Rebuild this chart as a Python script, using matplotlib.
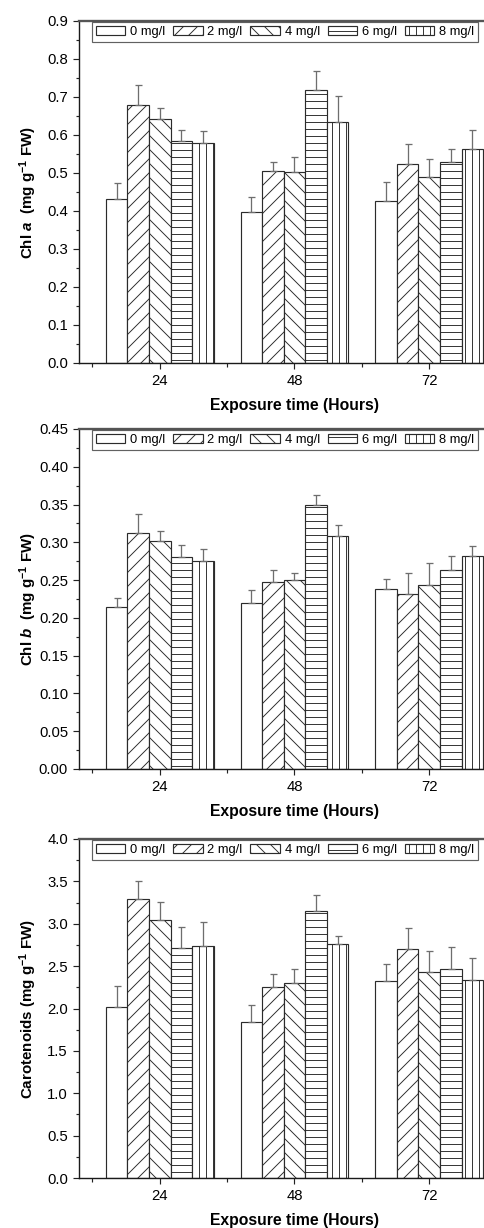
import numpy as np
import matplotlib
matplotlib.use("Agg")
import matplotlib.pyplot as plt
from matplotlib.ticker import MultipleLocator

# ---------------- data ----------------
times = ["24", "48", "72"]
series = ["0 mg/l", "2 mg/l", "4 mg/l", "6 mg/l", "8 mg/l"]

chla = [[0.432, 0.397, 0.426],
        [0.680, 0.504, 0.524],
        [0.642, 0.503, 0.489],
        [0.585, 0.718, 0.530],
        [0.580, 0.635, 0.564]]
chla_err = [[0.041, 0.041, 0.050],
            [0.052, 0.026, 0.051],
            [0.028, 0.039, 0.047],
            [0.028, 0.050, 0.034],
            [0.031, 0.068, 0.048]]

chlb = [[0.214, 0.220, 0.238],
        [0.313, 0.248, 0.231],
        [0.302, 0.250, 0.244],
        [0.281, 0.350, 0.264],
        [0.275, 0.308, 0.282]]
chlb_err = [[0.012, 0.017, 0.013],
            [0.025, 0.016, 0.028],
            [0.013, 0.010, 0.029],
            [0.016, 0.013, 0.018],
            [0.016, 0.015, 0.013]]

carot = [[2.02, 1.84, 2.32],
         [3.29, 2.25, 2.70],
         [3.04, 2.30, 2.43],
         [2.71, 3.15, 2.47],
         [2.74, 2.76, 2.34]]
carot_err = [[0.24, 0.20, 0.20],
             [0.22, 0.16, 0.25],
             [0.22, 0.17, 0.25],
             [0.25, 0.19, 0.25],
             [0.28, 0.10, 0.26]]

hatches = ["", "//", "\\\\", "--", "||"]

DPI = 84
W, H = 484, 1228
plt.rcParams.update({
    "font.family": ["Liberation Sans", "DejaVu Sans"],
    "mathtext.fontset": "custom",
    "mathtext.rm": "Liberation Sans:bold",
    "mathtext.bf": "Liberation Sans:bold",
    "mathtext.it": "Liberation Sans:italic:bold",
    "hatch.linewidth": 0.8,
    "hatch.color": "#3a3a3a",
})

fig = plt.figure(figsize=(W / DPI, H / DPI), dpi=DPI)

def px2pt(p):
    return p * 72.0 / DPI

panels = [
    dict(data=chla, err=chla_err, top=21, bottom=363, ylim=(0, 0.9), major=0.1, minor=0.05,
         fmt="{:.1f}", ylabel=r"Chl $\it{a}$  (mg g$^{-1}$ FW)"),
    dict(data=chlb, err=chlb_err, top=429, bottom=769, ylim=(0, 0.45), major=0.05, minor=0.025,
         fmt="{:.2f}", ylabel=r"Chl $\it{b}$  (mg g$^{-1}$ FW)"),
    dict(data=carot, err=carot_err, top=839, bottom=1178, ylim=(0, 4.0), major=0.5, minor=0.25,
         fmt="{:.1f}", ylabel=r"Carotenoids (mg g$^{-1}$ FW)"),
]

left_px, right_px = 79, 510
xlim = (0.4, 3.6)
x = np.arange(1, len(times) + 1)
bw = 0.16
offsets = (np.arange(len(series)) - 2) * bw

for p in panels:
    ax = fig.add_axes([left_px / W, 1 - p["bottom"] / H,
                       (right_px - left_px) / W, (p["bottom"] - p["top"]) / H])
    for i, name in enumerate(series):
        ax.bar(x + offsets[i], p["data"][i], width=bw, color="white",
               edgecolor="#2b2b2b", linewidth=1.0, hatch=hatches[i], label=name, zorder=2)
        ax.errorbar(x + offsets[i], p["data"][i],
                    yerr=[np.zeros(len(times)), p["err"][i]],
                    fmt="none", ecolor="#6e6e6e", elinewidth=1.1,
                    capsize=px2pt(3.5), capthick=1.1, zorder=3)
    ax.set_xlim(*xlim)
    ax.set_ylim(*p["ylim"])
    ax.set_xticks(x)
    ax.set_xticklabels(times)
    ax.set_xticks([0.5, 1.5, 2.5, 3.5], minor=True)
    ax.yaxis.set_minor_locator(MultipleLocator(p["minor"]))
    ticks = np.arange(0, p["ylim"][1] + 1e-9, p["major"])
    ax.set_yticks(ticks)
    ax.set_yticklabels([p["fmt"].format(t) for t in ticks])
    ax.tick_params(axis="both", which="major", direction="out", length=px2pt(6),
                   width=1.0, labelsize=12.8, color="#222222", pad=px2pt(5))
    ax.tick_params(axis="both", which="minor", direction="out", length=px2pt(3.5),
                   width=1.0, color="#222222")
    ax.tick_params(axis="y", which="both", right=False)
    ax.tick_params(axis="x", which="both", top=False)
    for s in ["left", "bottom"]:
        ax.spines[s].set_linewidth(1.2)
        ax.spines[s].set_color("#1a1a1a")
    ax.spines["top"].set_linewidth(2.0)
    ax.spines["top"].set_color("#555555")
    ax.spines["right"].set_visible(False)
    ax.set_xlabel("Exposure time (Hours)", fontsize=13.5, fontweight="bold",
                  labelpad=px2pt(10))
    ax.set_ylabel(p["ylabel"], fontsize=13, fontweight="bold")
    ax.yaxis.set_label_coords(-0.092, 0.5)
    leg = ax.legend(loc="upper left", bbox_to_anchor=(13 / 431, 0.997), ncol=5,
                    fontsize=11, frameon=True, fancybox=False, borderaxespad=0,
                    handlelength=2.3, handleheight=0.7, handletextpad=0.38,
                    columnspacing=0.6, borderpad=0.3)
    leg.get_frame().set_edgecolor("#3a3a3a")
    leg.get_frame().set_linewidth(1.0)
    for h in leg.legend_handles:
        h.set_linewidth(1.0)

fig.savefig("out.png", dpi=DPI)
